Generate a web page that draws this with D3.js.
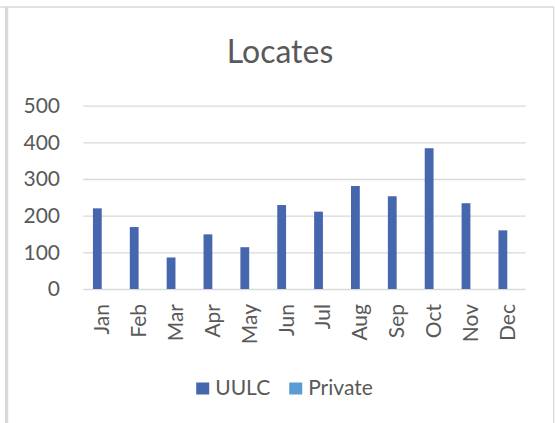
<!DOCTYPE html>
<html>
<head>
<meta charset="utf-8">
<script src="https://cdn.jsdelivr.net/npm/d3@7"></script>
<style>
  body { margin: 0; background: #fff; }
  text { font-family: Lato, "Noto Sans", sans-serif; fill: #595959; }
</style>
</head>
<body>
<div id="chart_container"></div>
<script>
const months = ["Jan", "Feb", "Mar", "Apr", "May", "Jun", "Jul", "Aug", "Sep", "Oct", "Nov", "Dec"];
const seriesNames = ["UULC", "Private"];
const uulcValues = [220, 169, 86, 149, 114, 229, 211, 281, 253, 384, 234, 160];
const privateValues = [0, 0, 0, 0, 0, 0, 0, 0, 0, 0, 0, 0];
const yTicks = [0, 100, 200, 300, 400, 500];
const seriesColors = ["#4666ad", "#5b9bd5"];

class ColumnChart {
  constructor() {
    this.width = 555;
    this.height = 423;
    this.plot = { left: 83.3, right: 525.7, top: 105.7, bottom: 289 };
    this.createChart();
  }

  createChart() {
    const svg = d3.select("#chart_container")
      .append("svg")
      .attr("width", this.width)
      .attr("height", this.height);

    // chart frame
    svg.append("line")
      .attr("x1", 0).attr("x2", 554)
      .attr("y1", 7).attr("y2", 7)
      .attr("stroke", "#d9d9d9").attr("stroke-width", 1.3);
    svg.append("rect")
      .attr("x", 5).attr("y", 7)
      .attr("width", 3.3).attr("height", this.height - 7)
      .attr("fill", "#d9d9d9");
    svg.append("line")
      .attr("x1", 553.7).attr("x2", 553.7)
      .attr("y1", 7).attr("y2", this.height)
      .attr("stroke", "#d9d9d9").attr("stroke-width", 1.3);

    svg.append("text")
      .attr("x", 280)
      .attr("y", 63)
      .attr("text-anchor", "middle")
      .style("font-size", "32px")
      .text("Locates");

    const x0 = d3.scaleBand()
      .domain(months)
      .range([this.plot.left, this.plot.right]);

    // Excel style gap width 219%
    const bw = x0.bandwidth();
    const barW = bw / (seriesNames.length + 2.19);
    const gap = barW * 2.19;
    const x1 = d3.scaleBand()
      .domain(seriesNames)
      .range([gap / 2, bw - gap / 2]);

    const y = d3.scaleLinear()
      .domain([0, 500])
      .range([this.plot.bottom, this.plot.top]);

    svg.append("g")
      .attr("class", "grid")
      .attr("transform", `translate(${this.plot.left}, 0)`)
      .call(d3.axisLeft(y).tickValues(yTicks)
        .tickSize(-(this.plot.right - this.plot.left))
        .tickFormat(""))
      .call(g => g.select(".domain").remove())
      .call(g => g.selectAll("line").attr("stroke", "#d9d9d9").attr("stroke-width", 1.3));

    svg.append("g")
      .attr("transform", `translate(60, 0)`)
      .call(d3.axisLeft(y).tickValues(yTicks).tickSize(0).tickPadding(0))
      .call(g => g.select(".domain").remove())
      .call(g => g.selectAll("text")
        .attr("fill", "#595959")
        .style("font-family", "Lato, sans-serif")
        .style("font-size", "21px"));

    const rows = months.map((m, i) => ({ month: m, values: [uulcValues[i], privateValues[i]] }));

    svg.append("g")
      .selectAll("g")
      .data(rows)
      .join("g")
      .attr("transform", d => `translate(${x0(d.month)}, 0)`)
      .selectAll("rect")
      .data(d => d.values.map((v, i) => ({ key: seriesNames[i], value: v })))
      .join("rect")
      .attr("x", d => x1(d.key))
      .attr("y", d => y(d.value))
      .attr("width", x1.bandwidth())
      .attr("height", d => y(0) - y(d.value))
      .attr("fill", d => seriesColors[seriesNames.indexOf(d.key)]);

    // rotated month labels
    svg.append("g")
      .selectAll("text")
      .data(months)
      .join("text")
      .attr("transform", d => `translate(${x0(d) + bw / 2}, 304) rotate(-90)`)
      .attr("dy", "0.36em")
      .attr("text-anchor", "end")
      .style("font-size", "21px")
      .text(d => d);

    // legend
    const legend = svg.append("g");
    let cx = 0;
    seriesNames.forEach((name, i) => {
      const item = legend.append("g").attr("transform", `translate(${cx}, 0)`);
      item.append("rect")
        .attr("x", 0).attr("y", 382.5)
        .attr("width", 13).attr("height", 12)
        .attr("fill", seriesColors[i]);
      const t = item.append("text")
        .attr("x", 19)
        .attr("y", 394.5)
        .style("font-size", "21px")
        .text(name);
      cx += 19 + t.node().getComputedTextLength() + 19;
    });
    const legendW = cx - 19;
    legend.attr("transform", `translate(${284.5 - legendW / 2}, 0)`);
  }
}

new ColumnChart();
</script>
</body>
</html>
